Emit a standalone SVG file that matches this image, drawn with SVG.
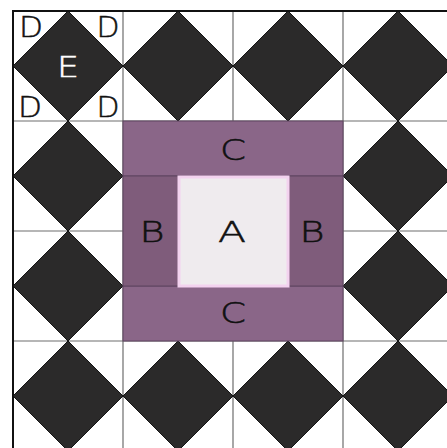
<svg xmlns="http://www.w3.org/2000/svg" width="447" height="448" viewBox="0 0 447 448">
<style>
.grid{stroke:#6e6e6e;stroke-width:1.2;fill:none}
.dia{fill:#2b2a2a;stroke:#151515;stroke-width:1}
.lbl{font-family:"DejaVu Sans","Liberation Sans",sans-serif;font-weight:200;font-size:29px;text-anchor:middle;fill:#111;stroke:#111;stroke-width:0.5}
.d{font-size:28px}
.w{fill:#ffffff;stroke:#ffffff}
</style>
<defs>
<polygon id="dm" class="dia" points="55,0 110,55 55,110 0,55"/>
</defs>
<rect x="0" y="0" width="447" height="448" fill="#ffffff"/>
<g id="grid">
<path class="grid" d="M123,11V448M233,11V448M343,11V448M13,121H447M13,231H447M13,341H447"/>
</g>
<g id="diamonds">
<use href="#dm" x="13" y="11"/><use href="#dm" x="123" y="11"/><use href="#dm" x="233" y="11"/><use href="#dm" x="343" y="11"/>
<use href="#dm" x="13" y="121"/><use href="#dm" x="343" y="121"/>
<use href="#dm" x="13" y="231"/><use href="#dm" x="343" y="231"/>
<use href="#dm" x="13" y="341"/><use href="#dm" x="123" y="341"/><use href="#dm" x="233" y="341"/><use href="#dm" x="343" y="341"/>
</g>
<g id="center">
<rect x="123" y="121" width="220" height="55" fill="#8a6688" stroke="#5e4460" stroke-width="1"/>
<rect x="123" y="286" width="220" height="55" fill="#8a6688" stroke="#5e4460" stroke-width="1"/>
<rect x="123" y="176" width="56" height="110" fill="#7f5c7b" stroke="#5e4460" stroke-width="1"/>
<rect x="288" y="176" width="55" height="110" fill="#7f5c7b" stroke="#5e4460" stroke-width="1"/>
<rect x="179" y="177" width="109" height="109" fill="#efebee" stroke="#f3d2ef" stroke-width="3"/>
</g>
<g id="border">
<path d="M13,448V11H447" fill="none" stroke="#111" stroke-width="2"/>
</g>
<g id="labels">
<text class="lbl d" x="31" y="37" textLength="24" lengthAdjust="spacingAndGlyphs">D</text>
<text class="lbl d" x="108" y="37" textLength="23" lengthAdjust="spacingAndGlyphs">D</text>
<text class="lbl d" x="30" y="117" textLength="24" lengthAdjust="spacingAndGlyphs">D</text>
<text class="lbl d" x="108" y="117" textLength="23" lengthAdjust="spacingAndGlyphs">D</text>
<text class="lbl w" x="68" y="77" textLength="22" lengthAdjust="spacingAndGlyphs">E</text>
<text class="lbl" x="233" y="160" textLength="26" lengthAdjust="spacingAndGlyphs">C</text>
<text class="lbl" x="152" y="242" textLength="25" lengthAdjust="spacingAndGlyphs">B</text>
<text class="lbl" x="232" y="242" textLength="28" lengthAdjust="spacingAndGlyphs">A</text>
<text class="lbl" x="312" y="242" textLength="25" lengthAdjust="spacingAndGlyphs">B</text>
<text class="lbl" x="233" y="323" textLength="26" lengthAdjust="spacingAndGlyphs">C</text>
</g>
</svg>
